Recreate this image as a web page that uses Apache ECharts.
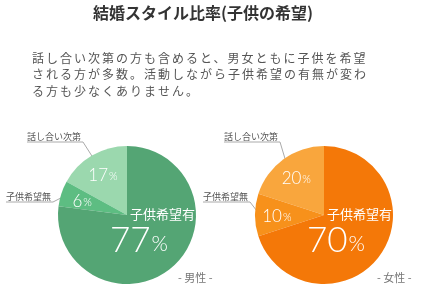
<!DOCTYPE html>
<html><head><meta charset="utf-8">
<script src="https://cdn.jsdelivr.net/npm/echarts@6/dist/echarts.min.js"></script>
<style>html,body{margin:0;padding:0;background:#fff}#c{width:427px;height:300px}</style>
</head><body><div id="c"></div>
<script>
// ---- data ----
const categories = ['話し合い次第', '子供希望無', '子供希望有'];
const maleValues = [17, 6, 77];
const femaleValues = [20, 10, 70];
const titleText = '結婚スタイル比率(子供の希望)';
const bodyLines = ['話し合い次第の方も含めると、男女ともに子供を希望', 'される方が多数。活動しながら子供希望の有無が変わ', 'る方も少なくありません。'];
const groupLabels = ['- 男性 -', '- 女性 -'];

// ---- styles ----
const maleColors = ['#9bd8ae', '#5dbd82', '#54a574'];
const femaleColors = ['#f9a63d', '#f7911b', '#f47808'];
const JP = "'Noto Sans CJK JP', sans-serif";
const NUM = "Lato, 'Noto Sans', sans-serif";

// emulate letter spacing for the paragraph text (font size marker 12.01px)
(function(){
  const proto = CanvasRenderingContext2D.prototype;
  const orig = proto.fillText;
  proto.fillText = function(){
    if ('letterSpacing' in this) {
      this.letterSpacing = this.font.indexOf('12.01px') >= 0 ? '2px' : '0px';
    }
    return orig.apply(this, arguments);
  };
})();

const R = 69;
const centers = [[127, 215], [324, 215]];

function mainLayout(cx, cy){
  return function(p){
    if (p.dataIndex === 2) {
      return { x: cx + 3, y: cy - 1, align: 'left', verticalAlign: 'middle' };
    }
    const pts = p.labelLinePoints;
    if (!pts) return {};
    const right = p.dataIndex === 0 ? cx - 46 : cx - 76;
    const lineY = p.dataIndex === 0 ? cy - 73 : cy - 13;
    const a = pts[0];
    const dx = a[0] - cx, dy = a[1] - cy, d = Math.sqrt(dx*dx + dy*dy), k = (d - 5) / d;
    const start = [cx + dx*k, cy + dy*k];
    return { x: right, y: lineY - 1, align: 'right', verticalAlign: 'bottom',
      labelLinePoints: [start, [right + 2, lineY], [right - p.labelRect.width, lineY]] };
  };
}
function innerLayout(cx, cy){
  return function(p){
    if (p.dataIndex === 2) {
      return { x: cx - 17, y: cy + 23, align: 'left', verticalAlign: 'middle' };
    }
    return {};
  };
}

function mainSeries(values, colors, c){
  return {
    type: 'pie', center: c, radius: R, startAngle: 90, clockwise: false,
    silent: true, animation: false,
    data: categories.map((n, i) => ({
      name: n, value: values[i], itemStyle: { color: colors[i] },
      label: i < 2 ? { show: true } : { show: true, position: 'inside', color: '#fff', fontSize: 13, fontFamily: JP },
      labelLine: { show: i < 2 }
    })),
    label: { position: 'outside', color: '#555', fontSize: 9, fontFamily: JP, formatter: '{b}', bleedMargin: 0 },
    labelLine: { show: true, length: 1, length2: 1, showAbove: true, lineStyle: { color: '#aaa', width: 1 } },
    itemStyle: { borderWidth: 0 },
    labelLayout: mainLayout(c[0], c[1])
  };
}
function innerSeries(values, c){
  return {
    type: 'pie', center: c, radius: R * 1.28, startAngle: 90, clockwise: false,
    silent: true, animation: false,
    data: categories.map((n, i) => ({
      name: n, value: values[i],
      label: i < 2 ? {} : {
        rich: {
          n: { fontSize: 35, fontFamily: NUM, fontWeight: 300, color: '#fff', verticalAlign: 'bottom', lineHeight: 40 },
          p: { fontSize: 21, fontFamily: NUM, fontWeight: 300, color: '#fff', verticalAlign: 'bottom', lineHeight: 40, padding: [0, 0, 3, 1] }
        }
      }
    })),
    itemStyle: { color: 'rgba(0,0,0,0)', borderWidth: 0 },
    label: {
      show: true, position: 'inside',
      formatter: p => '{n|' + p.value + '}{p|%}',
      rich: {
        n: { fontSize: 17, fontFamily: NUM, fontWeight: 300, color: '#fff', verticalAlign: 'bottom', lineHeight: 20 },
        p: { fontSize: 11, fontFamily: NUM, fontWeight: 300, color: '#fff', verticalAlign: 'bottom', lineHeight: 20, padding: [0, 0, 2, 1] }
      }
    },
    labelLine: { show: false },
    labelLayout: innerLayout(c[0], c[1])
  };
}

const chart = echarts.init(document.getElementById('c'), null, { renderer: 'canvas' });
chart.setOption({
  backgroundColor: '#fff',
  animation: false,
  graphic: [
    { type: 'text', left: 93, top: 5, style: { text: titleText, fontSize: 16, fontWeight: 'bold', fontFamily: JP, fill: '#333' } },
    { type: 'text', left: 32, top: 50, style: { text: bodyLines.join('\n'), fontSize: 12.01, fontFamily: JP, fill: '#555', lineHeight: 16.5 } },
    { type: 'text', left: 178, top: 272, style: { text: groupLabels[0], fontSize: 11, fontFamily: JP, fill: '#777' } },
    { type: 'text', left: 377, top: 272, style: { text: groupLabels[1], fontSize: 11, fontFamily: JP, fill: '#777' } }
  ],
  series: [
    mainSeries(maleValues, maleColors, centers[0]),
    innerSeries(maleValues, centers[0]),
    mainSeries(femaleValues, femaleColors, centers[1]),
    innerSeries(femaleValues, centers[1])
  ]
});
</script>
</body></html>
